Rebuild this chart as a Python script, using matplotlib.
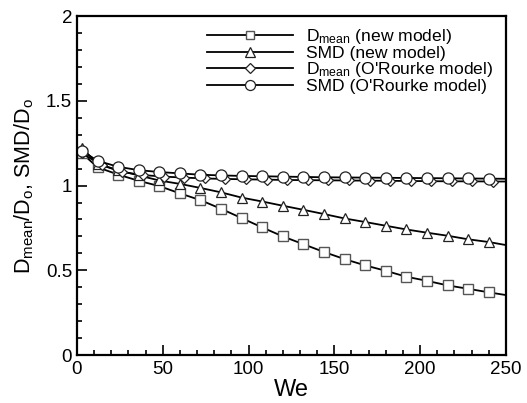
import matplotlib
matplotlib.use("Agg")
import matplotlib.pyplot as plt
import numpy as np

plt.rcParams['font.family'] = ['Liberation Sans', 'DejaVu Sans']
plt.rcParams['mathtext.fontset'] = 'custom'
plt.rcParams['mathtext.rm'] = 'Liberation Sans'
plt.rcParams['mathtext.it'] = 'Liberation Sans'

# Weber number samples
we = [3, 12, 24, 36, 48, 60, 72, 84, 96, 108, 120, 132, 144, 156, 168, 180, 192, 204, 216, 228, 240, 250]
we_orourke_dmean = [3, 14.5, 26.5, 38.5, 50.5, 62.5, 74.5, 86.5, 98.5, 110.5, 122.5, 134.5, 146.5,
                    158.5, 170.5, 182.5, 194.5, 206.5, 218.5, 230.5, 242.5, 250]

dmean_new = [1.19, 1.108, 1.065, 1.028, 0.997, 0.954, 0.914, 0.863, 0.808, 0.753, 0.700, 0.654,
             0.608, 0.566, 0.529, 0.497, 0.462, 0.438, 0.411, 0.391, 0.370, 0.354]
smd_new = [1.22, 1.13, 1.09, 1.06, 1.03, 1.01, 0.986, 0.960, 0.929, 0.906, 0.881, 0.857,
           0.832, 0.806, 0.785, 0.763, 0.741, 0.722, 0.704, 0.683, 0.667, 0.649]
dmean_or = [1.19, 1.12, 1.08, 1.062, 1.053, 1.047, 1.042, 1.039, 1.037, 1.035, 1.033, 1.032,
            1.031, 1.030, 1.029, 1.028, 1.027, 1.026, 1.025, 1.025, 1.024, 1.024]
smd_or = [1.205, 1.146, 1.111, 1.091, 1.080, 1.072, 1.064, 1.060, 1.057, 1.055, 1.053, 1.051,
          1.049, 1.048, 1.047, 1.046, 1.045, 1.044, 1.043, 1.042, 1.041, 1.040]

labels = [r'D$_{\mathrm{mean}}$ (new model)', 'SMD (new model)',
          r"D$_{\mathrm{mean}}$ (O'Rourke model)", "SMD (O'Rourke model)"]

fig = plt.figure(figsize=(5.27, 4.03), dpi=100)
ax = fig.add_axes([0.146, 0.119, 0.814, 0.841])

me = list(range(len(we) - 1))
styles = [
    dict(marker='s', ms=6.5, markeredgecolor='#555555', mew=1.0),
    dict(marker='^', ms=7.5, markeredgecolor='#222222', mew=0.9),
    dict(marker='D', ms=5.5, markeredgecolor='#222222', mew=0.9),
    dict(marker='o', ms=8, markeredgecolor='#222222', mew=0.9),
]
series = [(we, dmean_new), (we, smd_new), (we_orourke_dmean, dmean_or), (we, smd_or)]
for (xs, ys), st in zip(series, styles):
    ax.plot(xs, ys, color='black', lw=1.3, markerfacecolor='white', markevery=me, **st)

ax.set_xlim(0, 250)
ax.set_ylim(0, 2)
ax.set_xticks([0, 50, 100, 150, 200, 250])
ax.set_xticks(np.arange(0, 251, 10), minor=True)
ax.set_yticks([0, 0.5, 1, 1.5, 2])
ax.set_yticklabels(['0', '0.5', '1', '1.5', '2'])
ax.set_yticks(np.arange(0, 2.01, 0.1), minor=True)
ax.tick_params(which='both', direction='in', top=False, right=False, labelsize=13.5, width=1.2)
ax.tick_params(which='major', length=7)
ax.tick_params(which='minor', length=3.5)
ax.tick_params(axis='x', pad=4)
for s in ax.spines.values():
    s.set_linewidth(1.6)

ax.set_xlabel('We', fontsize=17, labelpad=1)
ax.set_ylabel(r'D$_{\mathrm{mean}}$/D$_{\mathrm{o}}$, SMD/D$_{\mathrm{o}}$', fontsize=15.5, labelpad=7)

# manual legend (axes-fraction layout)
row_y = [0.944, 0.895, 0.846, 0.797]
for y, st, lab in zip(row_y, styles, labels):
    ax.plot([0.303, 0.503], [y, y], transform=ax.transAxes, color='black', lw=1.3, clip_on=False)
    ax.plot([0.403], [y], transform=ax.transAxes, color='black', markerfacecolor='white',
            clip_on=False, **{**st, 'ms': st['ms'] * 0.9})
    ax.text(0.533, y - 0.0175, lab, transform=ax.transAxes, fontsize=12.6,
            va='baseline', ha='left')

fig.savefig('out.png', dpi=100)
